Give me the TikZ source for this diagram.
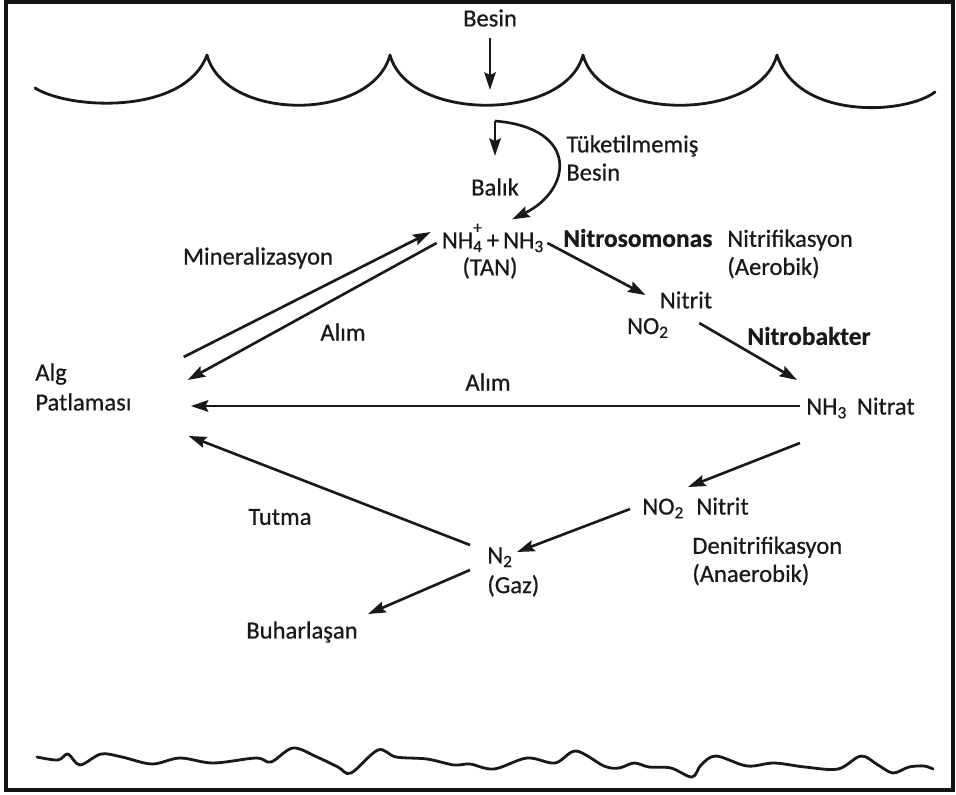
\documentclass[tikz,border=0pt]{standalone}
\usepackage{fontspec}
\setmainfont{Carlito}[FakeBold=0.6]
\newfontfamily\heavyfont{Carlito}[FakeBold=0.6]
\usepackage{tikz}
\usetikzlibrary{arrows.meta,positioning,calc}
\definecolor{cInk}{RGB}{25,25,25}
\definecolor{cFrame}{RGB}{20,20,20}
\tikzset{
  lbl/.style={inner sep=0pt,font=\heavyfont\fontsize{14}{16}\selectfont,text=cInk,align=left},
  bldlbl/.style={lbl,font=\fontsize{14.5}{17}\selectfont\bfseries},
  arr/.style={-{Stealth[length=10pt,width=6.5pt,inset=1.5pt]},line width=1.5pt,color=cInk},
  waveline/.style={line width=1.6pt,color=cInk,line join=round,line cap=round}
}

\begin{document}
\begin{tikzpicture}[x=0.02cm,y=-0.02cm]
  \useasboundingbox (0,0) rectangle (956,794);
  \draw[line width=2pt,cFrame] (6,2) rectangle (953,790);

  % water surface and bottom
  \draw[waveline] (35,88) .. controls (70,110) and (185,115) .. (207,55)
    .. controls (225,122) and (372,122) .. (390,55)
    .. controls (408,122) and (565,122) .. (583,55)
    .. controls (601,122) and (759,122) .. (777,55)
    .. controls (797,120) and (905,115) .. (935,92);
  \draw[waveline] plot[smooth,tension=0.55] coordinates {
    (37,757) (58,760) (68,754) (80,765) (101,754) (122,757) (152,764)
    (180,758) (213,763) (256,758) (271,762) (293,748) (317,757) (338,767)
    (351,773) (378,750) (396,757) (427,759) (454,765) (470,764) (494,769)
    (527,758) (555,763) (576,751) (604,766) (619,768) (634,763) (649,767)
    (671,768) (692,777) (701,765) (716,756) (747,766) (774,763) (805,767)
    (838,769) (861,756) (878,765) (893,773) (909,767) (924,766) (933,769)};

  % labels
  \node[lbl] (besin) at (490,18) {Besin};
  \node[lbl] (balik) at (495,187) {Balık};
  \node[lbl,anchor=west] (tuk) at (566,158) {Tüketilmemiş\\Besin};
  \node[lbl] (nh) at (493,238)
      {NH\textsubscript{4}\llap{\raisebox{0.5ex}{\textsuperscript{+}}}\,+\,NH\textsubscript{3}};
  \node[lbl] (tan) at (490,268) {(TAN)};
  \node[bldlbl,anchor=west] (nsm) at (563,238) {Nitrosomonas};
  \node[lbl,anchor=west] (nitrif) at (727,254) {Nitrifikasyon\\(Aerobik)};
  \node[lbl] (nitrit) at (686,300) {Nitrit};
  \node[lbl] (noa) at (648,328) {NO\textsubscript{2}};
  \node[bldlbl] (nbk) at (809,336) {Nitrobakter};
  \node[lbl,anchor=west] (nitrat) at (806,408) {NH\textsubscript{3}\hspace{0.4em}Nitrat};
  \node[lbl] (miner) at (258,258) {Mineralizasyon};
  \node[lbl] (alima) at (343,332) {Alım};
  \node[lbl] (alimb) at (488,382) {Alım};
  \node[lbl,anchor=west,text width=3cm,font=\heavyfont\fontsize{14}{17}\selectfont]
      (alg) at (35,387) {Alg\\Patlaması};
  \node[lbl,anchor=west] (nob) at (642,508) {NO\textsubscript{2}\hspace{0.5em}Nitrit};
  \node[lbl,anchor=west] (denit) at (692,561) {Denitrifikasyon\\(Anaerobik)};
  \node[lbl,anchor=west,font=\heavyfont\fontsize{14}{17}\selectfont]
      (ntwo) at (487,572) {N\textsubscript{2}\\(Gaz)};
  \node[lbl] (tutma) at (280,517) {Tutma};
  \node[lbl] (buhar) at (302,632) {Buharlaşan};

  \coordinate (surf) at (490,90);
  \coordinate (split) at (495,121);

  % connectors
  \draw[arr] ($(besin.south)+(0,11)$) -- (surf);
  \draw[arr] (split) -- ($(balik.north)+(0,-22)$);
  \draw[arr] (split) .. controls (580,128) and (572,190) .. ($(nh.north)+(19,-4)$);
  \draw[arr] ($(alg.east)+(-2,-30)$) -- ($(nh.west)+(-11,-6)$);
  \draw[arr] ($(nh.west)+(-5,5)$) -- ($(alg.east)+(2,-7)$);
  \draw[arr] ($(nh.east)+(3,5)$) -- ($(nitrit.west)+(-14,-5)$);
  \draw[arr] ($(noa.east)+(30,-5)$) -- ($(nitrat.west)+(-9,-28)$);
  \draw[arr] ($(nitrat.west)+(-6,-2)$) -- ($(alg.east)+(5,19)$);
  \draw[arr] ($(nitrat.west)+(-6,35)$) -- ($(nob.west)+(46,-21)$);
  \draw[arr] ($(nob.west)+(-12,1)$) -- ($(ntwo.west)+(30,-20)$);
  \draw[arr] ($(ntwo.west)+(-17,-27)$) -- ($(alg.east)+(3,49)$);
  \draw[arr] ($(ntwo.west)+(-17,-2)$) -- ($(buhar.east)+(10,-18)$);

\end{tikzpicture}
\end{document}
